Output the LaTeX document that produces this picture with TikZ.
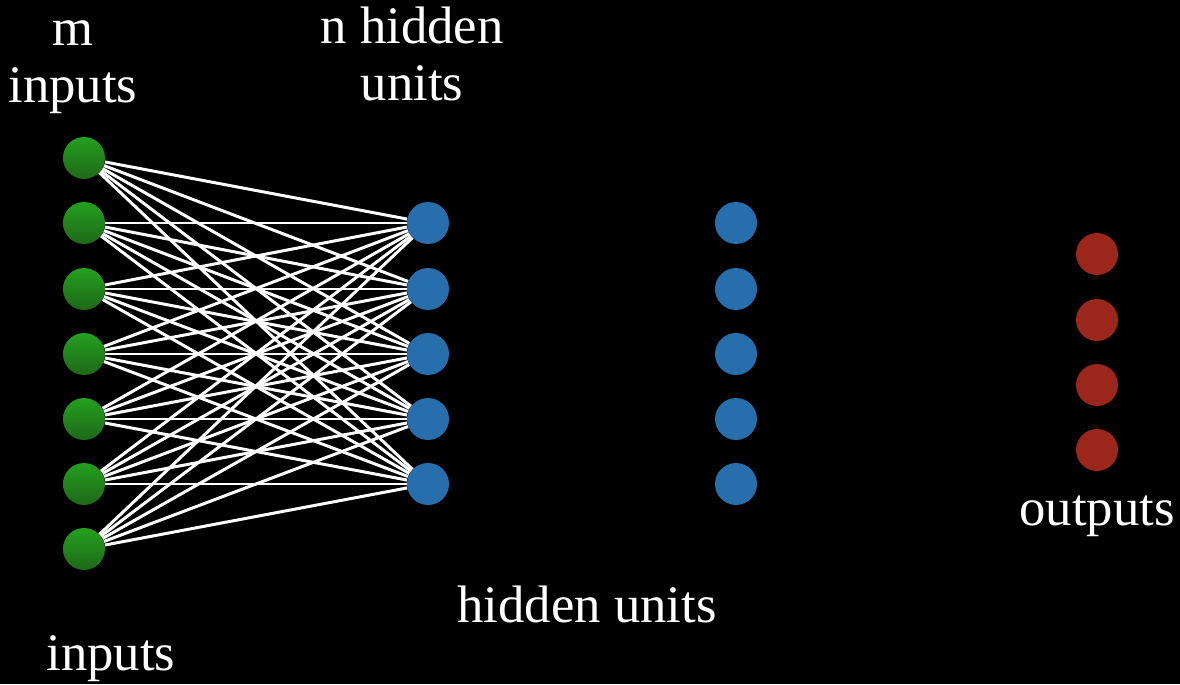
\documentclass[tikz,border=0pt]{standalone}
\usepackage{fontspec}
\setmainfont{Liberation Serif}
\usepackage{tikz}
\usepackage{xcolor}
\definecolor{intop}{RGB}{36,160,30}
\definecolor{inbot}{RGB}{30,104,24}
\definecolor{hidblue}{RGB}{38,110,172}
\definecolor{outred}{RGB}{154,38,28}
\tikzset{unit/.style={circle,minimum size=0.84cm,inner sep=0pt},
 input/.style={unit,top color=intop,bottom color=inbot},
 hidden/.style={unit,fill=hidblue},
 output/.style={unit,fill=outred},
 weight/.style={draw=white,line width=1.7pt},
 label/.style={text=white,font=\fontsize{30}{33}\selectfont,align=center,inner sep=0pt},
 }

\begin{document}
\begin{tikzpicture}[x=0.02cm,y=0.02cm]
        \fill[black] (0,0) rectangle (1180,684);
        \useasboundingbox (0,0) rectangle (1180,684);

        % layers
        \foreach \i/\y in {1/526,2/461,3/395,4/330,5/265,6/200,7/135}
            \node[input] (in\i) at (84,\y) {};
        \foreach \j/\y in {1/461,2/395,3/330,4/265,5/200} {
            \node[hidden] (ha\j) at (428,\y) {};
            \node[hidden] (hb\j) at (736,\y) {};
        }
        \foreach \k/\y in {1/430,2/364,3/299,4/234}
            \node[output] (out\k) at (1097,\y) {};

        % fully connected weights
        \foreach \i in {1,...,7}
            \foreach \j in {1,...,5}
                \draw[weight] (in\i) -- (ha\j);

        % base = last line
        \node[label,anchor=base] (minputs) at (73,581) {m\\inputs};
        \node[label,anchor=base] (nhidden) at (412,583) {n hidden\\units};
        \node[label,anchor=base] (hiddenunits) at (587,62) {hidden units};
        \node[label,anchor=base] (inputs) at (111,14) {inputs};
        \node[label,anchor=base] (outputs) at (1097,159) {outputs};
    \end{tikzpicture}
\end{document}
